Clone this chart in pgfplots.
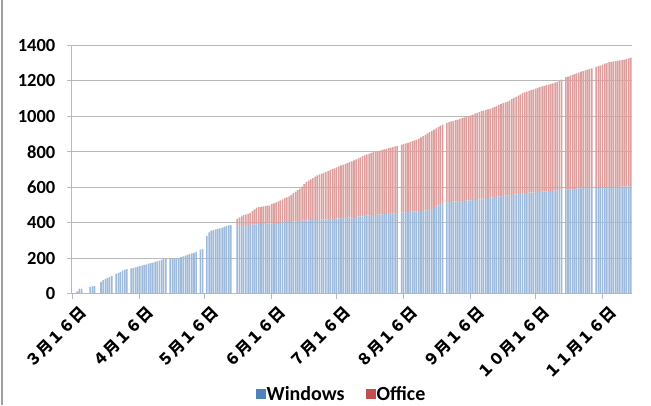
\documentclass[border=0pt]{standalone}
\usepackage{fontspec}
\setmainfont{Carlito}
\newfontfamily\cjk{Noto Sans CJK JP}
\usepackage{pgfplots}
\usepackage{pgfplotstable}
\pgfplotsset{compat=1.18}
\usetikzlibrary{calc}
\definecolor{wincol}{HTML}{4F81BD}
\definecolor{offcol}{HTML}{C0504D}
\definecolor{gridc}{RGB}{185,185,185}

\pgfplotstableread{
d w t
2 12 12
3 28 28
4 28 28
8 38 38
9 40 40
10 42 42
13 66 66
14 75 75
15 82 82
16 88 88
17 94 94
18 98 98
20 112 112
21 117 117
22 122 122
23 130 130
24 135 135
25 137 137
27 142 142
28 145 145
29 148 148
30 152 152
31 155 155
32 158 158
33 162 162
34 165 165
35 168 168
36 172 172
37 175 175
38 178 178
39 182 182
40 185 185
41 190 190
42 194 194
43 194 194
45 196 196
46 197 197
47 198 198
48 198 198
49 200 200
50 205 205
51 210 210
52 214 214
53 218 218
54 222 222
55 226 226
56 230 230
57 235 235
59 248 248
60 250 250
62 325 325
63 345 345
64 355 355
65 358 358
66 362 362
67 365 365
68 368 368
69 372 372
70 376 376
71 380 380
72 384 384
73 386 386
76 385 423
77 386 430
78 386 436
79 387 442
80 387 446
81 388 450
82 388 455
83 389 465
84 390 475
85 390 485
86 391 487
87 392 489
88 392 492
89 393 494
90 394 496
91 395 498
92 396 504
93 397 509
94 398 515
95 399 520
96 400 526
97 401 532
98 402 538
99 403 543
100 404 549
101 405 557
102 406 566
103 407 575
104 408 584
105 410 592
106 411 604
107 412 617
108 412 629
109 413 637
110 414 644
111 414 652
112 415 660
113 416 667
114 416 672
115 417 677
116 418 681
117 418 686
118 419 691
119 420 697
120 420 702
121 421 707
122 422 712
123 423 718
124 424 723
125 425 728
126 426 732
127 428 737
128 429 742
129 430 746
130 431 751
131 433 757
132 434 763
133 435 769
134 436 775
135 438 780
136 440 786
137 441 790
138 442 794
139 443 798
140 444 801
141 445 804
142 446 807
143 447 811
144 448 814
145 449 817
146 450 820
147 451 824
148 452 827
149 454 830
150 455 833
152 457 840
153 458 844
154 459 848
155 460 851
156 461 855
157 462 860
158 463 865
159 464 869
160 465 874
161 466 881
162 467 889
163 468 896
164 469 904
165 470 911
166 477 918
167 484 925
168 491 932
169 498 940
170 505 947
171 510 954
173 515 963
174 516 967
175 517 971
176 518 975
177 519 979
178 520 982
179 521 986
180 522 990
181 523 994
182 524 997
183 525 1001
184 526 1005
185 527 1010
186 528 1015
187 529 1019
188 530 1024
189 531 1029
190 536 1032
191 538 1036
192 539 1039
193 541 1042
194 542 1048
195 544 1054
196 545 1059
197 547 1065
198 548 1071
199 550 1075
200 552 1079
201 553 1083
202 555 1090
203 556 1097
204 558 1104
205 559 1110
206 561 1117
207 562 1124
208 564 1131
209 567 1135
210 568 1139
211 569 1144
212 570 1148
213 571 1152
214 572 1156
215 573 1161
216 574 1165
217 575 1169
218 576 1172
219 577 1176
220 578 1179
221 579 1183
222 580 1186
223 581 1190
224 582 1193
225 583 1200
226 584 1207
228 587 1221
229 588 1225
230 589 1230
231 590 1234
232 591 1238
233 592 1243
234 593 1247
235 594 1252
236 595 1256
237 596 1260
238 597 1264
239 597 1268
240 598 1271
242 599 1279
243 599 1283
244 600 1287
245 600 1292
246 601 1297
247 601 1301
248 601 1306
249 602 1308
250 602 1310
251 602 1312
252 602 1314
253 603 1316
254 603 1318
255 603 1320
256 603 1324
257 603 1327
258 603 1331
}\data

\begin{document}
\begin{tikzpicture}
\begin{axis}[
  scale only axis, width=560.2pt, height=248pt,
  xmin=-0.5, xmax=258.6, ymin=0, ymax=1400,
  axis x line*=bottom, axis y line*=left,
  axis line style={gridc, line width=1pt},
  ytick={0,200,...,1400},
  ymajorgrids, grid style={gridc, line width=1pt},
  xtick={0,31,61,92,122,153,184,214,245},
  xticklabels={３月１６日,４月１６日,５月１６日,６月１６日,７月１６日,８月１６日,９月１６日,１０月１６日,１１月１６日},
  tick align=outside, major tick length=5pt,
  tick style={gridc, line width=1pt},
  x tick label style={rotate=45, anchor=north east, font=\cjk\bfseries\fontsize{15.5}{15.5}\selectfont, inner sep=1pt, yshift=-7pt, xshift=1pt},
  y tick label style={font=\bfseries\fontsize{18.5}{18.5}\selectfont, xshift=-8pt},
  /pgf/number format/assume math mode=true,
  /pgf/number format/1000 sep={},
  scaled y ticks=false,
  ybar stacked, bar width=0.72,
  legend style={at={(axis description cs:0.4805,-0.404)}, anchor=center, draw=none, fill=none,
    font=\bfseries\fontsize{20}{20}\selectfont, legend columns=2,
    nodes={inner sep=1pt, text depth=0pt},
    /tikz/every even column/.append style={column sep=20pt}},
]
\addplot[fill=wincol!55!white, draw=none,
  legend image code/.code={\fill[wincol] (0pt,-5pt) rectangle (10pt,5pt);}]
  table[x=d, y=w] {\data};
\addlegendentry{Windows}
\addplot[fill=offcol!55!white, draw=none,
  legend image code/.code={\fill[offcol] (0pt,-5pt) rectangle (10pt,5pt);}]
  table[x=d, y expr=\thisrow{t}-\thisrow{w}] {\data};
\addlegendentry{Office}
\coordinate (O) at (axis cs:0,0);
\end{axis}
\pgfresetboundingbox
\path[use as bounding box] ($(O)+(-72.9pt,-111.5pt)$) rectangle ($(O)+(578.1pt,293.5pt)$);
\draw[gray!75, line width=1.5pt] ($(O)+(-70.9pt,-111.5pt)$) -- ($(O)+(-70.9pt,293.5pt)$);
\end{tikzpicture}
\end{document}
